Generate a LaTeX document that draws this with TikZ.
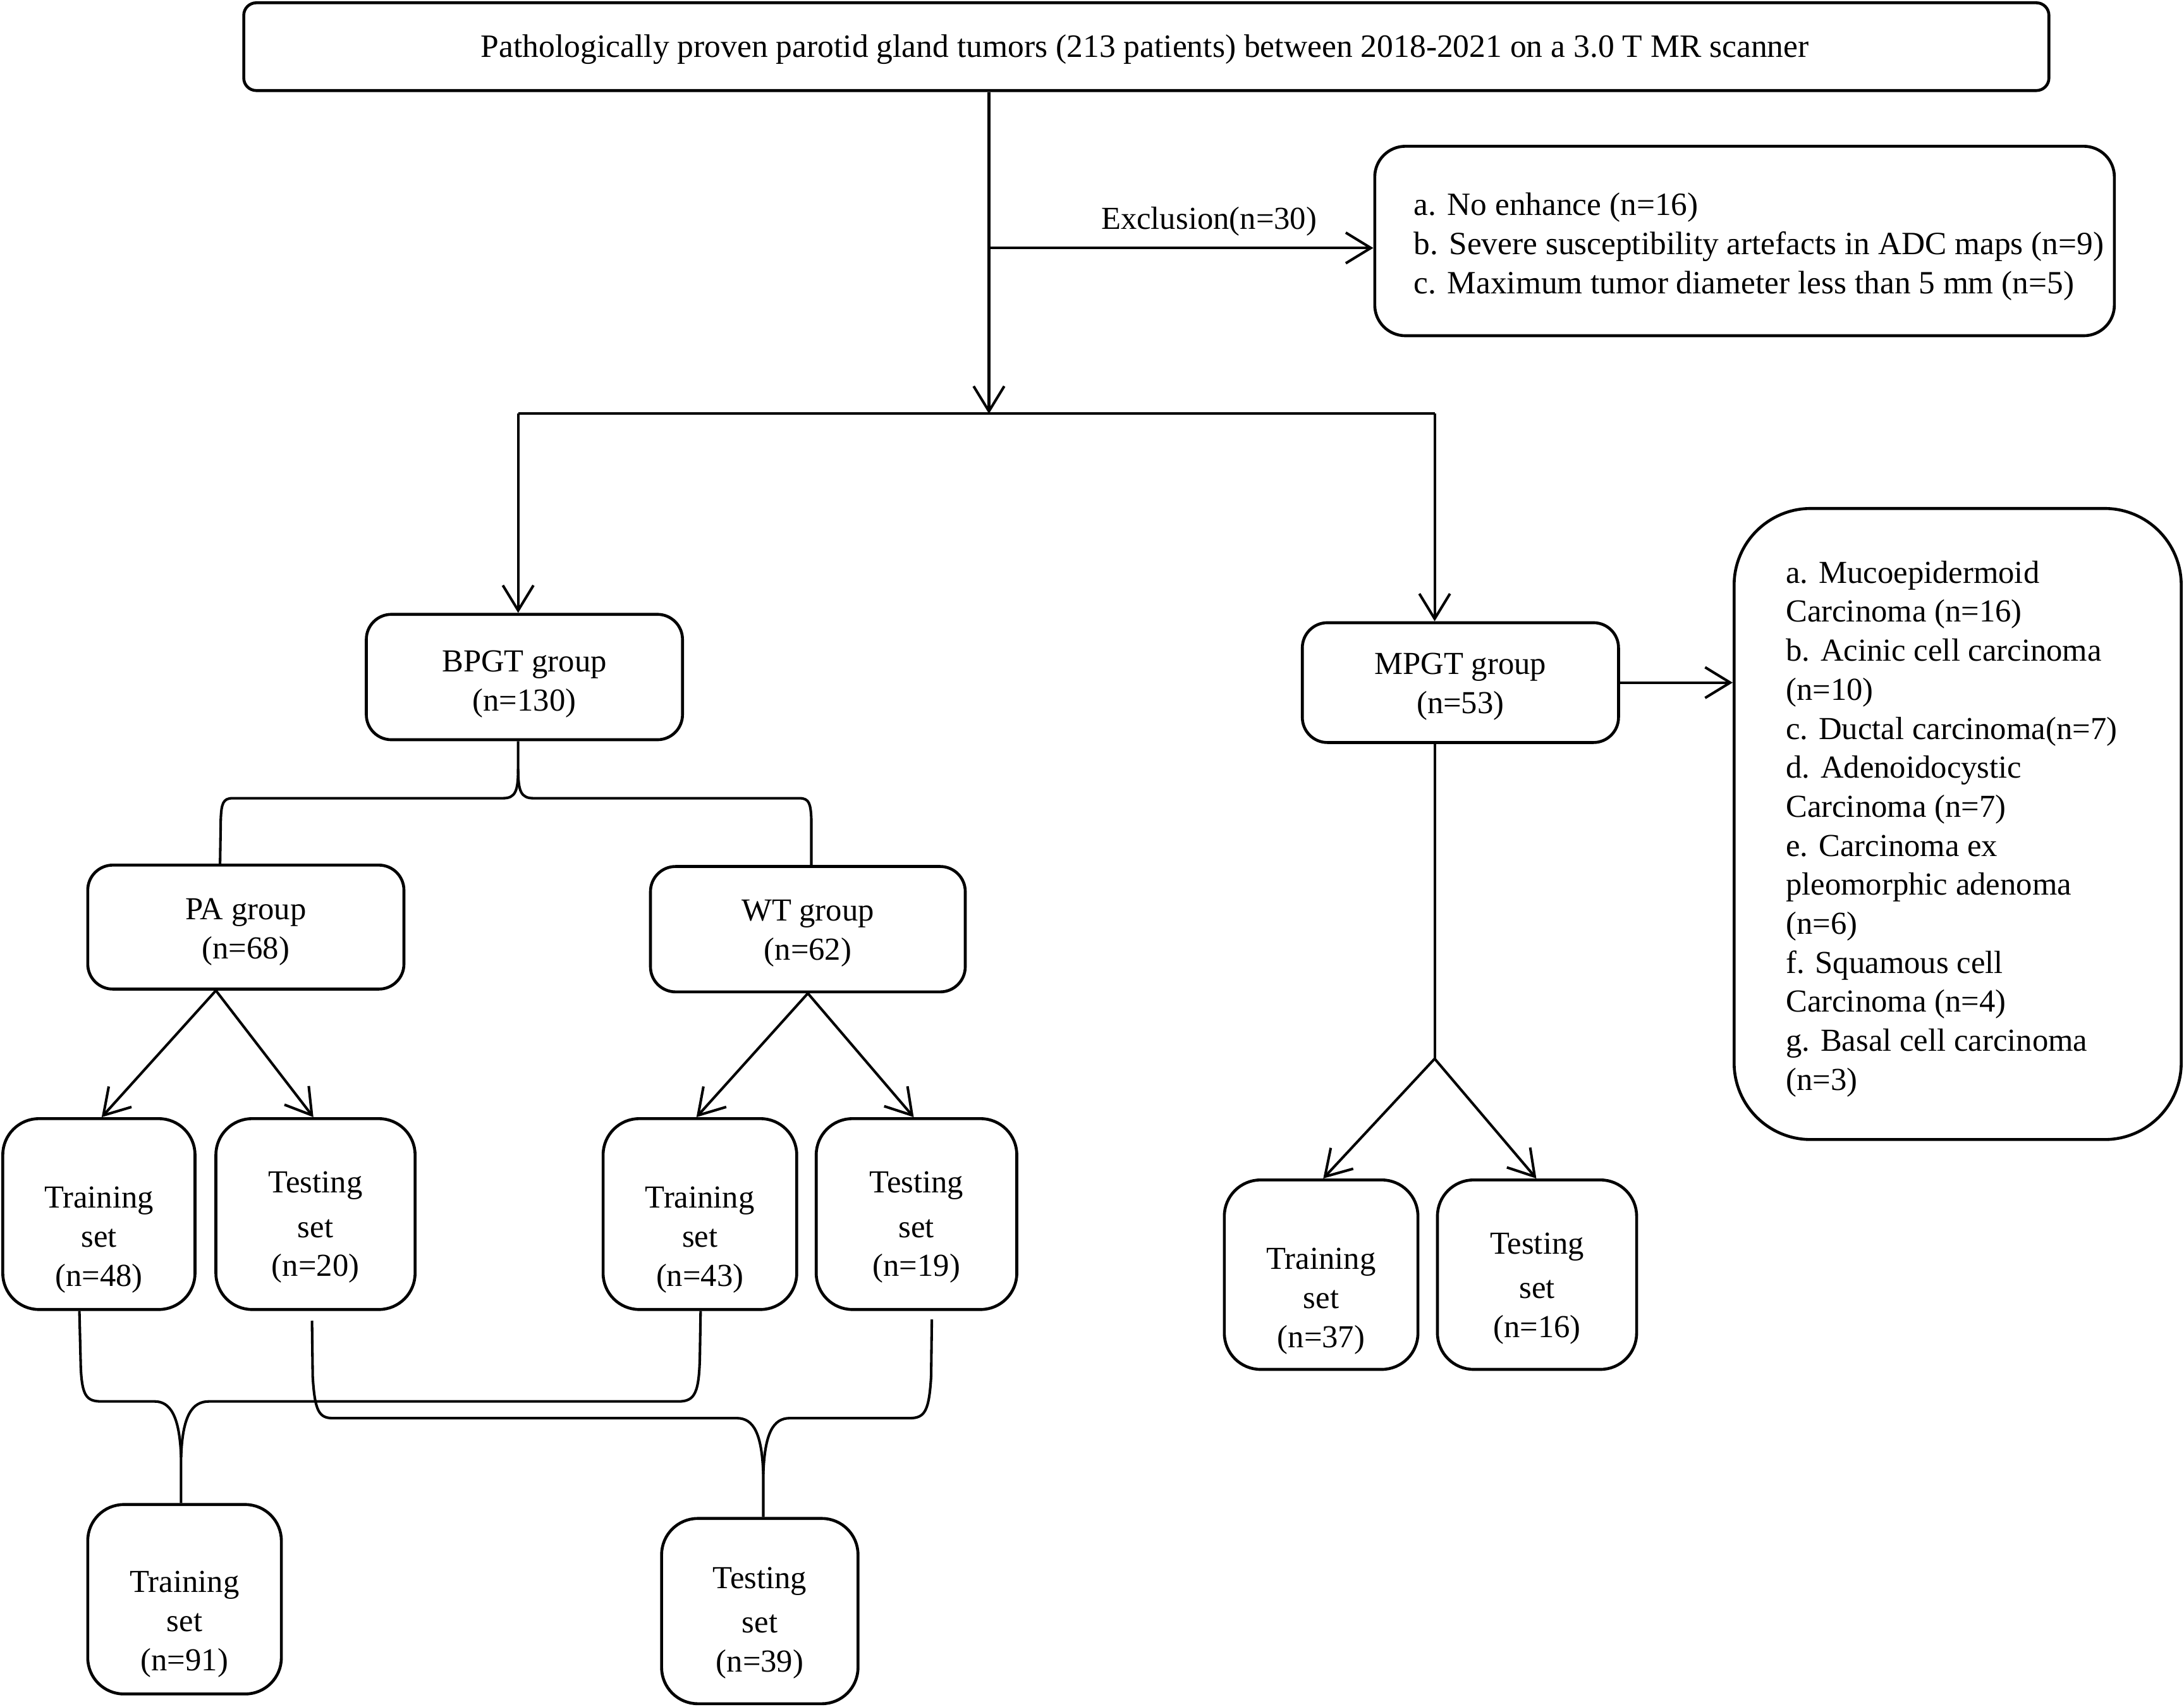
\documentclass[tikz,border=0pt]{standalone}
\usepackage{fontspec}
\setmainfont{Liberation Serif}
\usetikzlibrary{arrows.meta,calc}
\begin{document}
\begin{tikzpicture}[x=1pt,y=-1pt,
  box/.style={draw, line width=2.1pt, rounded corners=#1, inner sep=0pt},
  box/.default=18pt,
  setbox/.style={box=26pt, minimum height=137pt},
  lbl/.style={font=\fontsize{23}{28}\selectfont, align=center, inner sep=0pt},
  con/.style={line width=1.85pt},
  arr/.style={con, -{Straight Barb[length=18pt,width=22pt]}}]
\useasboundingbox (0,0) rectangle (1568,1225);
\fill[white] (0,0) rectangle (1568,1225);

% ---------- boxes ----------
\node[box=9pt, minimum width=1296pt, minimum height=63pt] (top) at (823,33.5) {};
\node[lbl, font=\fontsize{23.4}{28}\selectfont] (toptxt) at (822,35.5)
  {Pathologically proven parotid gland tumors (213 patients) between 2018-2021 on a 3.0 T MR scanner};

\node[box=22pt, minimum width=531pt, minimum height=136pt] (excl) at (1252.5,173) {};
\node[lbl, align=left, anchor=west, font=\fontsize{23.3}{28}\selectfont] (excltxt) at (1015,177)
  {a. No enhance (n=16)\\b. Severe susceptibility artefacts in ADC maps (n=9)\\c. Maximum tumor diameter less than 5 mm (n=5)};
\node[lbl] (exlab) at (868,159) {Exclusion(n=30)};

\node[box, minimum width=227pt, minimum height=90pt] (bpgt) at (376.5,486) {};
\node[lbl] (bpgtt) at (376.5,491) {BPGT group\\(n=130)};
\node[box, minimum width=227pt, minimum height=86pt] (mpgt) at (1048.5,490) {};
\node[lbl] (mpgtt) at (1048.5,493) {MPGT group\\(n=53)};

\node[box=55pt, minimum width=321pt, minimum height=453pt] (list) at (1405.5,591.5) {};
\node[lbl, align=left, anchor=west] (listtxt) at (1282,595)
  {a. Mucoepidermoid\\Carcinoma (n=16)\\b. Acinic cell carcinoma\\(n=10)\\c. Ductal carcinoma(n=7)\\d. Adenoidocystic\\Carcinoma (n=7)\\e. Carcinoma ex\\pleomorphic adenoma\\(n=6)\\f. Squamous cell\\Carcinoma (n=4)\\g. Basal cell carcinoma\\(n=3)};

\node[box, minimum width=227pt, minimum height=89pt] (pa) at (176.5,665.5) {};
\node[lbl] (pat) at (176.5,669) {PA group\\(n=68)};
\node[box, minimum width=226pt, minimum height=90pt] (wt) at (580,667) {};
\node[lbl] (wtt) at (580,670) {WT group\\(n=62)};

\node[setbox, minimum width=138pt] (patr) at (71,871.5) {};
\node[lbl] (patrt) at (71,890) {Training\\set\\(n=48)};
\node[setbox, minimum width=143pt] (pate) at (226.5,871.5) {};
\node[lbl] (patet) at (226.5,881) {Testing\\[4pt]set\\(n=20)};

\node[setbox, minimum width=139pt] (wttr) at (502.5,871.5) {};
\node[lbl] (wttrt) at (502.5,890) {Training\\set\\(n=43)};
\node[setbox, minimum width=144pt] (wtte) at (658,871.5) {};
\node[lbl] (wttet) at (658,881) {Testing\\[4pt]set\\(n=19)};

\node[setbox, minimum width=139pt, minimum height=136pt] (mtr) at (948.5,915) {};
\node[lbl] (mtrt) at (948.5,934) {Training\\set\\(n=37)};
\node[setbox, minimum width=143pt, minimum height=136pt] (mte) at (1103.5,915) {};
\node[lbl] (mtet) at (1103.5,925) {Testing\\[4pt]set\\(n=16)};

\node[setbox, minimum width=139pt, minimum height=136pt] (ftr) at (132.5,1148) {};
\node[lbl] (ftrt) at (132.5,1166) {Training\\set\\(n=91)};
\node[setbox, minimum width=141pt, minimum height=133pt] (fte) at (545.5,1156.5) {};
\node[lbl] (ftet) at (545.5,1165) {Testing\\[4pt]set\\(n=39)};

% ---------- coordinates ----------
\coordinate (hm) at (710,297);
\coordinate (j1) at (710,178);
\coordinate (hL) at (372,297);
\coordinate (hR) at (1030,297);
\coordinate (paX) at (158,0);
\coordinate (wtX) at (582.5,0);
\coordinate (bx) at (372,0);
\coordinate (paS) at ($(pa.south)+(-21.5,0)$);
\coordinate (mS) at ($(mpgt.south)+(-18.5,0)$);
\coordinate (mJ) at (1030,760);

% ---------- connectors ----------
\draw[arr] (top.south -| hm) -- (hm);
\draw[arr] (j1) -- (excl.west |- j1);
\draw[con] (hL) -- (hR);
\draw[arr] (hL) -- (bpgt.north -| hL);
\draw[arr] (hR) -- (mpgt.north -| hR);
\draw[arr] (mpgt.east) -- (list.west |- mpgt.east);

% BPGT fork
\draw[con] (bpgt.south -| bx) -- (372,552) .. controls (372,568) and (370,573) .. (361,573) -- (167,573)
  .. controls (160,573) and (159,577) .. (158.5,588) -- (pa.north -| paX);
\draw[con] (372,552) .. controls (372,568) and (374,573) .. (383,573) -- (574,573)
  .. controls (581,573) and (582,577) .. (582.5,588) -- (wt.north -| wtX);

% splits
\draw[arr] (paS) -- ($(patr.north)+(2,0)$);
\draw[arr] (paS) -- ($(pate.north)+(-1.5,0)$);
\draw[arr] (wt.south) -- ($(wttr.north)+(-2.5,0)$);
\draw[arr] (wt.south) -- ($(wtte.north)+(-2,0)$);
\draw[con] (mS) -- (mJ);
\draw[arr] (mJ) -- ($(mtr.north)+(1.5,0)$);
\draw[arr] (mJ) -- ($(mte.north)+(-0.5,0)$);

% bottom brace: training
\draw[con] ($(patr.south)+(-14,0)$) -- (58,982) .. controls (59,1002) and (62,1006) .. (73,1006) -- (111,1006)
  .. controls (122,1006) and (129,1016) .. (130,1046) -- ($(ftr.north)+(-2.5,0)$);
\draw[con] ($(wttr.south)+(0.5,0)$) -- (502.5,972) .. controls (502,1000) and (499,1006) .. (487,1006) -- (150,1006)
  .. controls (138,1006) and (131,1016) .. (130,1046);

% bottom brace: testing
\draw[con] ($(pate.south)+(-2.5,7)$) -- (224.5,988) .. controls (226,1013) and (229,1018) .. (239,1018) -- (529,1018)
  .. controls (541,1018) and (547,1029) .. (548,1058) -- ($(fte.north)+(2.5,0)$);
\draw[con] ($(wtte.south)+(11,6)$) -- (668.5,988) .. controls (667,1013) and (664,1018) .. (653,1018) -- (567,1018)
  .. controls (555,1018) and (549,1029) .. (548,1058);
\end{tikzpicture}
\end{document}
